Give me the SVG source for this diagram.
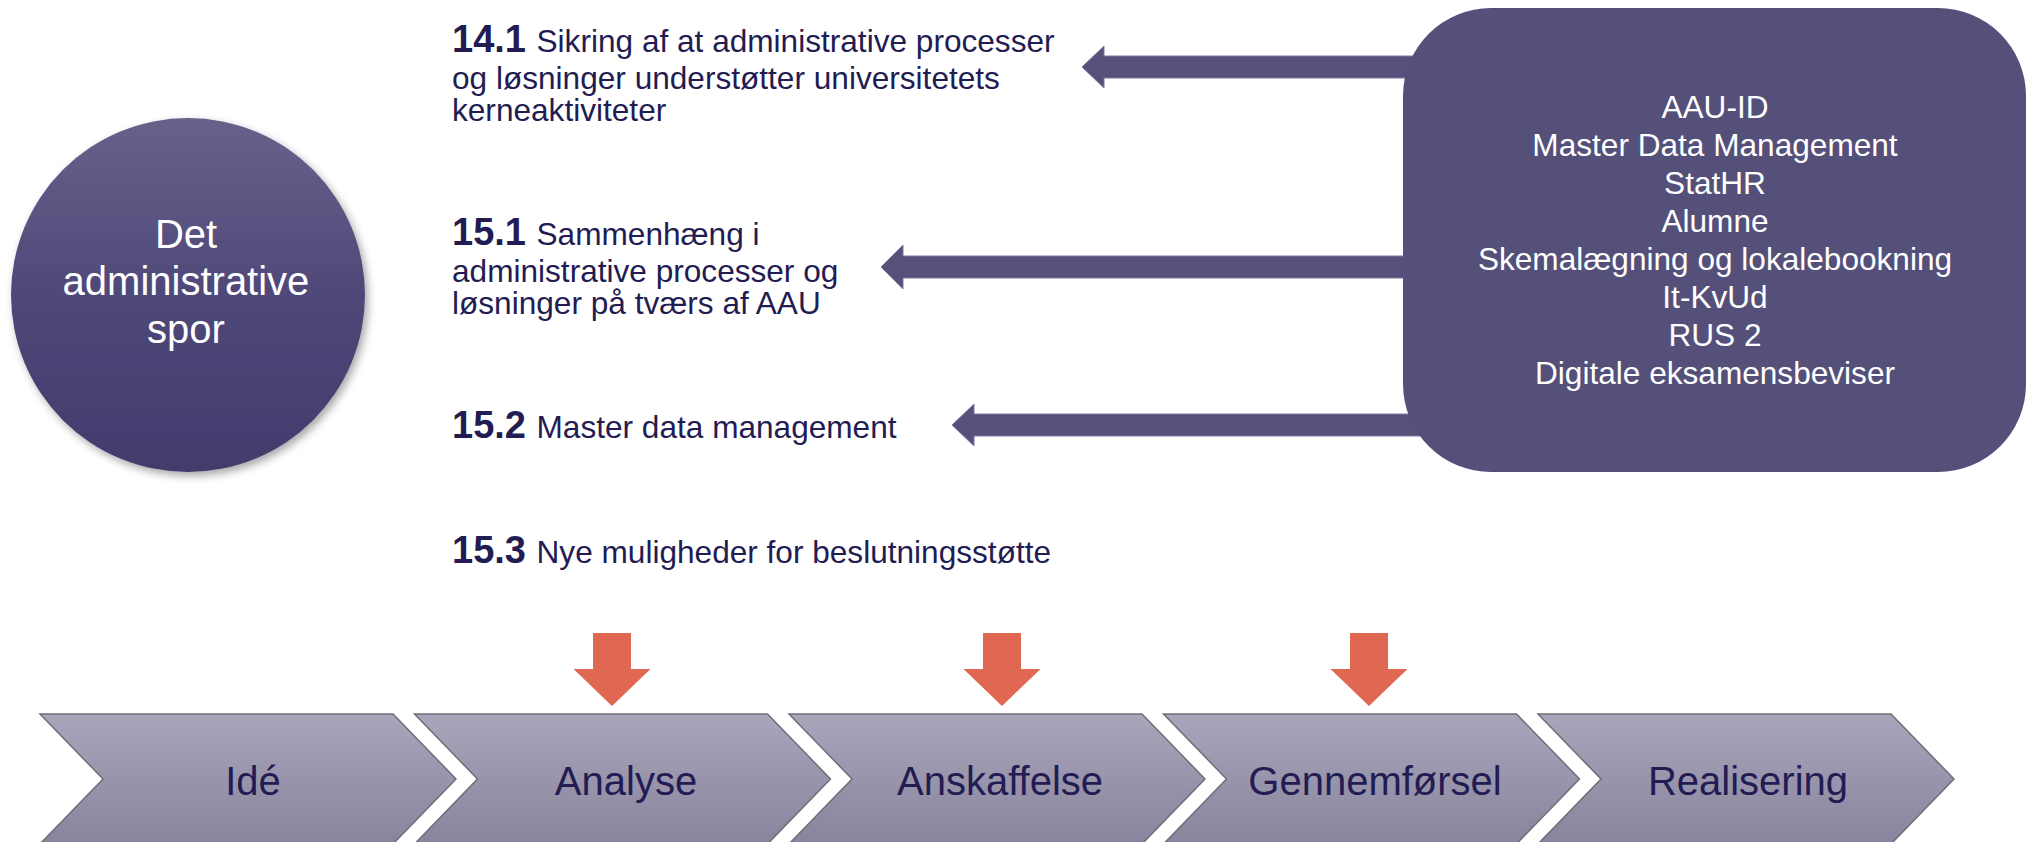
<svg xmlns="http://www.w3.org/2000/svg" width="2033" height="842" viewBox="0 0 2033 842">
<defs>
<linearGradient id="gCircle" x1="0" y1="0" x2="0" y2="1">
<stop offset="0" stop-color="#67628a"/>
<stop offset="0.5" stop-color="#4f4879"/>
<stop offset="1" stop-color="#433a6c"/>
</linearGradient>
<linearGradient id="gChev" x1="0" y1="714" x2="0" y2="844" gradientUnits="userSpaceOnUse">
<stop offset="0" stop-color="#a9a5bb"/>
<stop offset="1" stop-color="#88849d"/>
</linearGradient>
<filter id="shadow" x="-10%" y="-10%" width="125%" height="125%">
<feDropShadow dx="3" dy="4" stdDeviation="4" flood-color="#000" flood-opacity="0.35"/>
</filter>
<style>
.t{font-family:"Liberation Sans",Arial,sans-serif;}
.lead{fill:#221c52;font-size:31.6px;}
.num{font-weight:bold;font-size:38px;}
.white{fill:#ffffff;font-size:31.6px;text-anchor:middle;}
.circ{font-size:40px;}
.chev{fill:url(#gChev);stroke:#6e6e78;stroke-width:1.5;}
.chevTxt{fill:#221c52;font-size:40px;text-anchor:middle;}
.blue{fill:#55517b;stroke:#7d79a0;stroke-width:1;}
.red{fill:#e06751;}
</style>
</defs>
<rect width="2033" height="842" fill="#ffffff"/>

<g id="connectors">
<path class="blue" d="M1082,67 L1104,46 V56 H1440 V78 H1104 V88 Z"/>
<path class="blue" d="M881,267 L903,245 V256 H1440 V278 H903 V289 Z"/>
<path class="blue" d="M952,425 L974,404 V414 H1440 V436 H974 V446 Z"/>
<path class="red" d="M593,633 H631 V669 H650.5 L612,706 L573.5,669 H593 Z"/>
<path class="red" d="M983,633 H1021 V669 H1040.5 L1002,706 L963.5,669 H983 Z"/>
<path class="red" d="M1350,633 H1388 V669 H1407.5 L1369,706 L1330.5,669 H1350 Z"/>
</g>

<g id="circle">
<circle cx="188" cy="295" r="177" fill="url(#gCircle)" filter="url(#shadow)"/>
<text class="t white circ" x="186" y="248">Det</text>
<text class="t white circ" x="186" y="295">administrative</text>
<text class="t white circ" x="186" y="343">spor</text>
</g>

<g id="item-14-1">
<text class="t lead" x="452" y="52"><tspan class="num">14.1 </tspan>Sikring af at administrative processer</text>
<text class="t lead" x="452" y="89">og løsninger understøtter universitetets</text>
<text class="t lead" x="452" y="121">kerneaktiviteter</text>
</g>

<g id="item-15-1">
<text class="t lead" x="452" y="245"><tspan class="num">15.1 </tspan>Sammenhæng i</text>
<text class="t lead" x="452" y="282">administrative processer og</text>
<text class="t lead" x="452" y="314">løsninger på tværs af AAU</text>
</g>

<g id="item-15-2">
<text class="t lead" x="452" y="438"><tspan class="num">15.2 </tspan>Master data management</text>
</g>

<g id="item-15-3">
<text class="t lead" x="452" y="563"><tspan class="num">15.3 </tspan>Nye muligheder for beslutningsstøtte</text>
</g>

<g id="systems">
<rect x="1403" y="8" width="623" height="464" rx="88" ry="88" fill="#54507a"/>
<text class="t white" x="1715" y="118">AAU-ID</text>
<text class="t white" x="1715" y="156">Master Data Management</text>
<text class="t white" x="1715" y="194">StatHR</text>
<text class="t white" x="1715" y="232">Alumne</text>
<text class="t white" x="1715" y="270">Skemalægning og lokalebookning</text>
<text class="t white" x="1715" y="308">It-KvUd</text>
<text class="t white" x="1715" y="346">RUS 2</text>
<text class="t white" x="1715" y="384">Digitale eksamensbeviser</text>
</g>

<g id="phase-ide">
<path class="chev" d="M40,714 H393 L456,779 L393,844 H40 L103,779 Z"/>
<text class="t chevTxt" x="253" y="795">Idé</text>
</g>
<g id="phase-analyse">
<path class="chev" d="M414.5,714 H767.5 L830.5,779 L767.5,844 H414.5 L477.5,779 Z"/>
<text class="t chevTxt" x="626" y="795">Analyse</text>
</g>
<g id="phase-anskaffelse">
<path class="chev" d="M789,714 H1142 L1205,779 L1142,844 H789 L852,779 Z"/>
<text class="t chevTxt" x="1000" y="795">Anskaffelse</text>
</g>
<g id="phase-gennemfoersel">
<path class="chev" d="M1163.5,714 H1516.5 L1579.5,779 L1516.5,844 H1163.5 L1226.5,779 Z"/>
<text class="t chevTxt" x="1375" y="795">Gennemførsel</text>
</g>
<g id="phase-realisering">
<path class="chev" d="M1538,714 H1891 L1954,779 L1891,844 H1538 L1601,779 Z"/>
<text class="t chevTxt" x="1748" y="795">Realisering</text>
</g>
</svg>
